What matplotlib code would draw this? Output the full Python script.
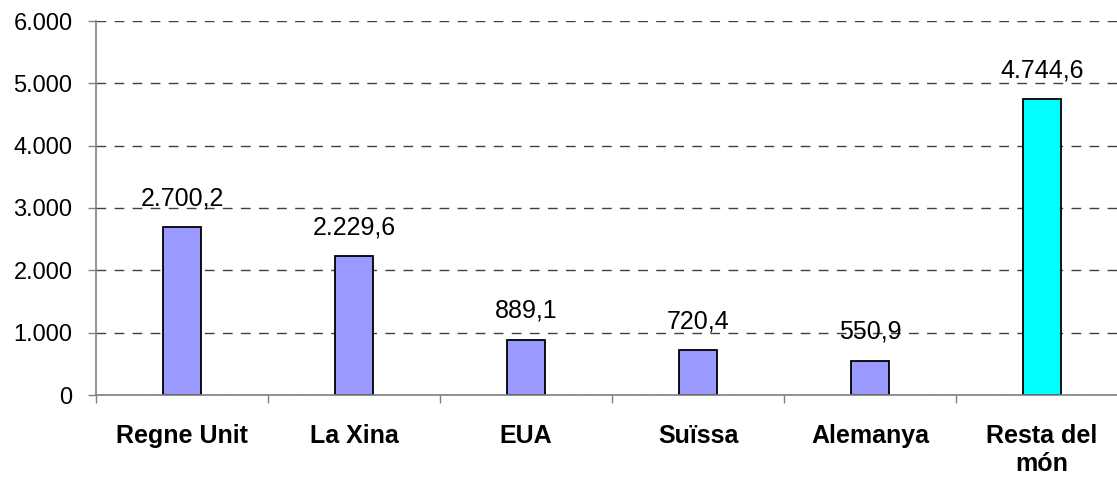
import matplotlib
matplotlib.use("Agg")
import matplotlib.pyplot as plt
from matplotlib.ticker import FixedLocator, FuncFormatter

plt.rcParams['font.family'] = ['Liberation Sans', 'DejaVu Sans']

# data
countries = ["Regne Unit", "La Xina", "EUA", "Suïssa", "Alemanya", "Resta del\nmón"]
values = [2700.2, 2229.6, 889.1, 720.4, 550.9, 4744.6]
bar_colors = ["#9999FF"] * 5 + ["#00FFFF"]
y_ticks = [0, 1000, 2000, 3000, 4000, 5000, 6000]


def cat_number(v, decimals=0):
    # catalan style: 1.234,5
    s = f"{v:,.{decimals}f}"
    return s.replace(",", "X").replace(".", ",").replace("X", ".")


fig = plt.figure(figsize=(11.17, 4.79), dpi=100)
# the plot area runs a little past the right border, as in the original
ax = fig.add_axes([96 / 1117, 84 / 479, 1032 / 1117, 374 / 479])

x = list(range(len(countries)))
bars = ax.bar(x, values, width=0.226, color=bar_colors, edgecolor="black",
              linewidth=1.3, zorder=3)

for b, v in zip(bars, values):
    ax.annotate(cat_number(v, 1), (b.get_x() + b.get_width() / 2, b.get_height()),
                xytext=(0, 12), textcoords="offset points",
                ha="center", va="bottom", fontsize=18)

ax.set_xlim(-0.5, len(countries) - 0.5)
ax.set_ylim(0, 6000)

ax.set_yticks(y_ticks)
ax.yaxis.set_major_formatter(FuncFormatter(lambda v, p: cat_number(v)))
ax.tick_params(axis="y", direction="out", length=6, width=1, color="#808080",
               labelsize=17, pad=11)

ax.xaxis.set_major_locator(FixedLocator([i - 0.5 for i in range(len(countries) + 1)]))
ax.xaxis.set_major_formatter(FuncFormatter(lambda v, p: ""))
ax.set_xticks(x, minor=True)
ax.set_xticklabels(countries, minor=True, fontsize=18, fontweight="bold",
                   linespacing=1.2)
ax.tick_params(axis="x", which="major", direction="out", length=6, width=1,
               color="#808080")
ax.tick_params(axis="x", which="minor", length=0, pad=21)

ax.grid(axis="y", linestyle=(0, (7, 6)), color="#404040", linewidth=1, zorder=0)

for side in ("top", "right"):
    ax.spines[side].set_visible(False)
for side in ("left", "bottom"):
    ax.spines[side].set_color("#808080")
    ax.spines[side].set_linewidth(1.2)
    ax.spines[side].set_zorder(4)

fig.savefig("out.png", dpi=100)
